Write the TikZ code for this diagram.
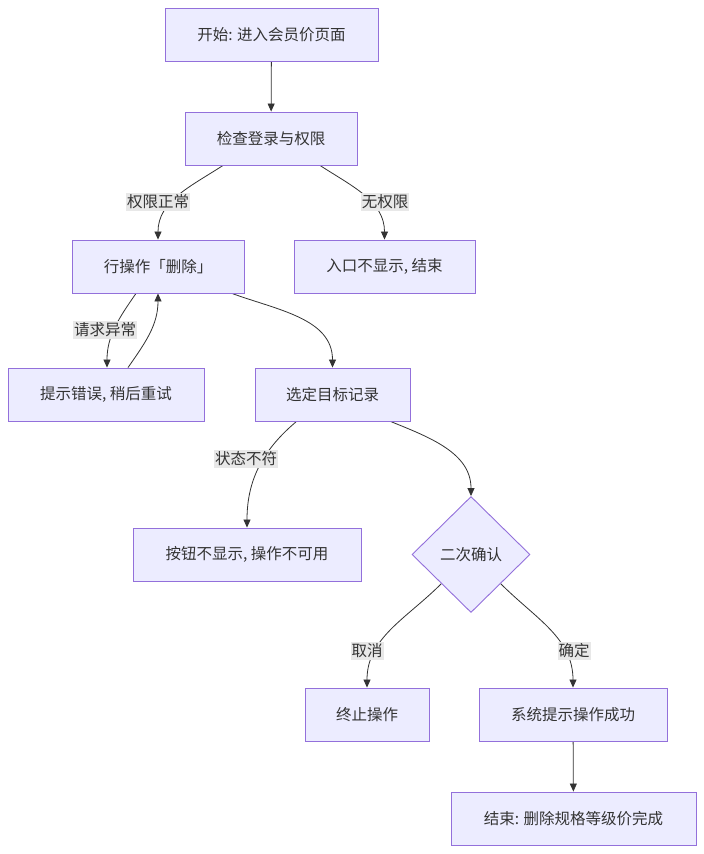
\documentclass[tikz,border=0pt]{standalone}
\usepackage{fontspec}
\setmainfont{Noto Sans CJK SC}
\usetikzlibrary{arrows.meta,shapes.geometric,backgrounds}
\definecolor{boxfill}{HTML}{ECECFF}
\definecolor{boxline}{HTML}{9370DB}
\definecolor{ink}{HTML}{333333}
\definecolor{lblfill}{HTML}{E8E8E8}
\tikzset{
 box/.style={rectangle,draw=boxline,fill=boxfill,line width=0.9pt,minimum height=53pt,text=ink,font=\fontsize{15.5}{18}\selectfont},
 decide/.style={diamond,draw=boxline,fill=boxfill,line width=0.9pt,minimum width=118pt,minimum height=116pt,inner sep=0pt,text=ink,font=\fontsize{15.5}{18}\selectfont},
 lbl/.style={fill=lblfill,text=ink,inner xsep=1pt,inner ysep=2pt,font=\fontsize{15.5}{18}\selectfont},
 flow/.style={draw=ink,line width=0.8pt,-{Triangle[length=8pt,width=7pt]}}
}
\begin{document}
\begin{tikzpicture}[x=1pt,y=1pt]
\useasboundingbox (0,0) rectangle (704,-854);
\node[box,minimum width=213pt] (start) at (271.5,-34.5) {开始: 进入会员价页面};
\node[box,minimum width=172pt] (check) at (271,-138.5) {检查登录与权限};
\node[box,minimum width=172pt] (rowop) at (158,-266.5) {行操作「删除」};
\node[box,minimum width=181pt] (noentry) at (384.5,-266.5) {入口不显示, 结束};
\node[box,minimum width=196pt] (errmsg) at (106,-394.5) {提示错误, 稍后重试};
\node[box,minimum width=155pt] (pick) at (332.5,-394.5) {选定目标记录};
\node[box,minimum width=228pt] (nobtn) at (247,-554.5) {按钮不显示, 操作不可用};
\node[decide] (confirm) at (471,-554.5) {二次确认};
\node[box,minimum width=124pt] (abort) at (367,-714.5) {终止操作};
\node[box,minimum width=188pt] (okmsg) at (573,-714.5) {系统提示操作成功};
\node[box,minimum width=245pt] (finish) at (573.5,-818.5) {结束: 删除规格等级价完成};
\node[lbl] (permok) at (158,-202) {权限正常};
\node[lbl] (noperm) at (385,-202) {无权限};
\node[lbl] (reqerr) at (105,-330) {请求异常};
\node[lbl] (badstate) at (246,-459) {状态不符};
\node[lbl] (cancel) at (367,-651) {取消};
\node[lbl] (ok) at (574,-651) {确定};
\begin{pgfonlayer}{background}
\draw[flow] (start) -- (check);
\draw[flow] ([xshift=-48pt]check.south) to[out=-147,in=90] (rowop.north);
\draw[flow] ([xshift=49pt]check.south) to[out=-33,in=90] (noentry.north);
\draw[flow] ([xshift=-22pt]rowop.south) to[out=-125,in=90] ([xshift=1pt]errmsg.north);
\draw[flow] ([xshift=22pt]errmsg.north) to[out=55,in=-90] (rowop.south);
\draw[flow] ([xshift=74pt]rowop.south) to[out=-20,in=90] (pick.north);
\draw[flow] ([xshift=-36pt]pick.south) to[out=-140,in=90] (nobtn.north);
\draw[flow] ([xshift=58pt]pick.south) to[out=-22,in=90] (confirm.north);
\draw[flow] (confirm.south west) to[out=-135,in=90] (abort.north);
\draw[flow] (confirm.south east) to[out=-45,in=90] (okmsg.north);
\draw[flow] (okmsg) -- (finish);
\end{pgfonlayer}
\end{tikzpicture}
\end{document}
